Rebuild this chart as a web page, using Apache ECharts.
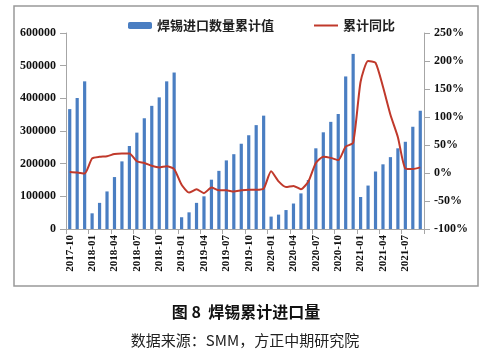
<!DOCTYPE html>
<html>
<head>
<meta charset="utf-8">
<script src="https://cdn.jsdelivr.net/npm/echarts@6/dist/echarts.min.js"></script>
<style>
html,body{margin:0;padding:0;background:#fff;}
#c{width:489px;height:359px;}
</style>
</head>
<body>
<div id="c"></div>
<script>
var categories = [
  '2017-10','2017-11','2017-12',
  '2018-01','2018-02','2018-03','2018-04','2018-05','2018-06','2018-07','2018-08','2018-09','2018-10','2018-11','2018-12',
  '2019-01','2019-02','2019-03','2019-04','2019-05','2019-06','2019-07','2019-08','2019-09','2019-10','2019-11','2019-12',
  '2020-01','2020-02','2020-03','2020-04','2020-05','2020-06','2020-07','2020-08','2020-09','2020-10','2020-11','2020-12',
  '2021-01','2021-02','2021-03','2021-04','2021-05','2021-06','2021-07','2021-08','2021-09'
];
var cumulativeImports = [
  367000, 401000, 452000,
  48000, 80000, 115000, 159000, 207000, 254000, 295000, 339000, 377000, 403000, 452000, 479000,
  36000, 51000, 80000, 100000, 151000, 178000, 210000, 229000, 261000, 287000, 318000, 347000,
  38000, 44000, 58000, 78000, 109000, 150000, 247000, 296000, 328000, 352000, 467000, 536000,
  98000, 133000, 176000, 198000, 220000, 247000, 267000, 313000, 362000
];
var yoyPct = [
  2, 1, -1,
  26, 29, 30, 34, 35, 35, 21, 18, 13, 10, 12, 7,
  -21, -35, -29, -36, -26, -31, -31, -33, -31, -30, -30, -28,
  3, -15, -25, -23, -29, -15, 18, 29, 27, 23, 47, 54,
  163, 200, 197, 154, 104, 64, 8, 7, 10
];
var seriesNames = ['焊锡进口数量累计值', '累计同比'];
var figureTitle = '图 8  焊锡累计进口量';
var sourceText = '数据来源：SMM，方正中期研究院';

var serif = '"Liberation Serif", "Times New Roman", serif';
var cjk = '"Noto Sans CJK SC", sans-serif';
var axisGray = '#A6A6A6';

var chart = echarts.init(document.getElementById('c'), null, {renderer: 'canvas'});
chart.setOption({
  animation: false,
  backgroundColor: '#fff',
  grid: {left: 66, right: 65, top: 33, bottom: 130, containLabel: false},
  legend: {
    left: 123, top: 14,
    itemWidth: 24, itemHeight: 7, itemGap: 40,
    textStyle: {fontFamily: cjk, fontSize: 13, fontWeight: 'bold', color: '#222'},
    data: [{name: seriesNames[0]}, {name: seriesNames[1], icon: 'path://M0,0 L24,0 L24,2 L0,2 Z'}]
  },
  graphic: [
    {type: 'rect', shape: {x: 14, y: 6, width: 464, height: 280}, style: {fill: 'none', stroke: '#999', lineWidth: 1.5}, silent: true},
    {type: 'text', x: 246, y: 312, style: {text: figureTitle, fill: '#111', font: 'bold 16px ' + cjk, textAlign: 'center', textVerticalAlign: 'middle'}},
    {type: 'text', x: 245, y: 340, style: {text: sourceText, fill: '#222', font: '15px ' + cjk, textAlign: 'center', textVerticalAlign: 'middle'}}
  ],
  xAxis: {
    type: 'category',
    data: categories,
    boundaryGap: true,
    axisLine: {lineStyle: {color: axisGray}},
    axisTick: {show: true, interval: 2, length: 5, lineStyle: {color: axisGray}},
    axisLabel: {interval: 2, rotate: 90, fontFamily: serif, fontWeight: 'bold', fontSize: 11, color: '#111', margin: 6}
  },
  yAxis: [
    {
      type: 'value', min: 0, max: 600000, interval: 100000,
      axisLine: {show: true, lineStyle: {color: axisGray}},
      axisTick: {show: true, length: 6, lineStyle: {color: axisGray}},
      splitLine: {show: false},
      axisLabel: {formatter: function (v) { return String(v); }, fontFamily: serif, fontWeight: 'bold', fontSize: 12, color: '#111', margin: 10}
    },
    {
      type: 'value', min: -100, max: 250, interval: 50,
      axisLine: {show: true, lineStyle: {color: axisGray}},
      axisTick: {show: true, length: 6, lineStyle: {color: axisGray}},
      splitLine: {show: false},
      axisLabel: {formatter: '{value}%', fontFamily: serif, fontWeight: 'bold', fontSize: 12, color: '#111', margin: 10}
    }
  ],
  series: [
    {
      name: seriesNames[0], type: 'bar', yAxisIndex: 0,
      data: cumulativeImports, barWidth: 3.2,
      itemStyle: {color: '#4A7EC2'}
    },
    {
      name: seriesNames[1], type: 'line', yAxisIndex: 1,
      data: yoyPct, symbol: 'none', smooth: 0.2,
      lineStyle: {color: '#C0392B', width: 2},
      itemStyle: {color: '#C0392B'}
    }
  ]
});
</script>
</body>
</html>
